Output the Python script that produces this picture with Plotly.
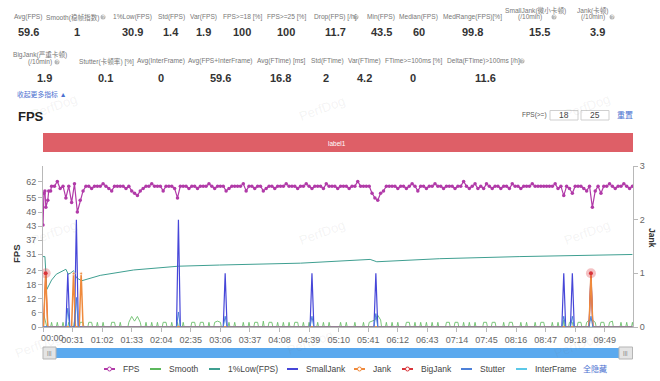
import plotly.graph_objects as go

FONT = "Liberation Sans, Noto Sans CJK SC, sans-serif"

# ---------- data ----------
fps_head_t = [0, 1, 2, 3, 5, 6, 8]
fps_head = [43.5, 57, 58, 51, 54, 58, 58]
fps_body = [
    60,60,62,59,60,55,60,53,61,49,
    54,58,60,60,59,60,60,60,61,60,
    59,58,60,60,60,60,59,60,58,57,
    56,58,59,60,60,61,60,60,60,58,
    60,60,60,59,55,60,60,60,59,60,
    60,59,60,60,60,61,60,59,60,60,
    60,58,59,60,60,60,60,61,58,60,
    60,59,60,60,58,59,60,60,59,60,
    60,60,61,60,60,60,59,60,60,61,
    60,59,60,60,60,59,61,60,60,60,
    59,60,60,60,59,60,60,62,60,60,
    60,60,57,55,54,57,58,60,60,60,
    60,59,60,60,59,60,61,60,58,60,
    60,59,60,60,61,60,60,59,60,60,
    60,59,60,60,62,60,59,60,61,59,
    60,59,61,60,59,60,60,59,60,60,
    59,61,60,60,59,60,60,60,61,60,
    60,60,60,60,60,60,61,59,60,56,
    60,59,57,60,60,60,59,58,60,51,
    58,60,57,60,60,61,60,59,60,60,
    61,60,59,60,
]
smooth_head = [6, 5, 3, 1, 0, 0, 0]
smooth_body = [
    2,0,2,0,2,0,2,0,2.5,0,
    2,2,0,2,2,0,2,0,2,0,
    0,2,2,0,2,0,0,2,4.5,2.5,
    4.5,2,0,2,0,2,0,2,0,2,
    2,0,2,0,2,0,2,0,0,2,
    2,0,2,2,0,2,0,2,2.5,2,
    0,0,2,0,2,0,0,2,0,2,
    0,2,2,0,2.5,0,2,2,0,2,
    0,2,0,2,0,2,2,0,2,0,
    2,0,0,2,0,2,0,2,0,0,
    0,2,0,2,0,0,2,0,0,2,
    0,2,2.5,3,5,3,0,2,0,2,
    0,2,0,0,2,2,0,2,0,2,
    0,2,0,2,0,2,0,0,2,2,
    0,2,2,0,2,0,2,0,2,0,
    0,2,2,0,2,2,0,0,2,0,
    2,2,0,0,2,0,2,0,0,2,
    0,2,2,0,0,2,0,2,0,3,
    0,2,2,0,2,2,0,2,3,3,
    2,0,2,2,0,2,2.5,0,0,2,
    0,2,0,2,
]
low_t = [0, 2, 4, 9, 14, 24, 26.5, 29, 32, 35, 40.5, 60, 95, 142, 185, 270, 343, 350, 416, 500, 618]
low_v = [30, 30, 16, 20, 22.5, 24.6, 22.5, 23, 24, 21, 19.7, 22, 24.3, 25.9, 26.4, 27.2, 28.8, 27.8, 29.1, 30, 30.9]
smalljank_t = [0, 24, 26, 28, 33, 35, 37, 140, 142, 144, 189, 191, 193, 280, 282, 284, 347, 349, 351, 544, 546, 548, 553, 555, 557, 572.5, 574.5, 576.5, 618]
smalljank_v = [0, 0, 1, 0, 0, 2, 0, 0, 2, 0, 0, 1, 0, 0, 1, 0, 0, 1, 0, 0, 1, 0, 0, 1, 0, 0, 1, 0, 0]
jank_t = [0, 0.5, 2.8, 5, 30, 32, 34, 38, 40, 42, 572.5, 574.5, 576.5, 618]
jank_v = [0, 0, 1, 0, 0, 1, 0, 0, 1, 0, 0, 1, 0, 0]
bigjank_t = [0, 0.5, 2.8, 5, 572.5, 574.5, 576.5, 618]
bigjank_v = [0, 0, 1, 0, 0, 1, 0, 0]
stutter_t = [0, 24, 26, 28, 33, 35, 37, 140, 142, 144, 189, 191, 193, 280, 282, 284, 347, 349, 351, 544, 546, 548, 553, 555, 557, 572.5, 574.5, 576.5, 618]
stutter_v = [0, 0, 0.35, 0, 0, 0.55, 0, 0, 0.28, 0, 0, 0.2, 0, 0, 0.2, 0, 0, 0.25, 0, 0, 0.2, 0, 0, 0.2, 0, 0, 0.2, 0, 0]
interframe_t = [0, 618]
interframe_v = [0, 0]

left_ticks = [0, 6, 12, 18, 24, 31, 37, 43, 49, 55, 62]
right_ticks = [0, 1, 2, 3]
time_ticks = list(range(0, 590, 31))
time_labels = ["", "00:31", "01:02", "01:33", "02:04", "02:35", "03:06", "03:37", "04:08", "04:39",
               "05:10", "05:41", "06:12", "06:43", "07:14", "07:45", "08:16", "08:47", "09:18", "09:49"]

row1 = [("Avg(FPS)", "59.6", 28, 28), ("Smooth(稳帧指数)", "1", 73, 77), ("1%Low(FPS)", "30.9", 132, 132),
        ("Std(FPS)", "1.4", 171, 171), ("Var(FPS)", "1.9", 204, 204), ("FPS>=18 [%]", "100", 242, 242),
        ("FPS>=25 [%]", "100", 286, 286), ("Drop(FPS) [/h]", "11.7", 335, 335), ("Min(FPS)", "43.5", 381, 381),
        ("Median(FPS)", "60", 419, 419), ("MedRange(FPS)[%]", "99.8", 472, 472)]
row2 = [("Stutter(卡顿率) [%]", "0.1", 106, 105), ("Avg(InterFrame)", "0", 161, 161),
        ("Avg(FPS+InterFrame)", "59.6", 220, 220), ("Avg(FTime) [ms]", "16.8", 281, 280),
        ("Std(FTime)", "2", 327, 326), ("Var(FTime)", "4.2", 364, 364),
        ("FTime>=100ms [%]", "0", 413, 413), ("Delta(FTime)>100ms [/h]", "11.6", 483, 485)]
legend_items = [("FPS", 104, "#b13aa8", True), ("Smooth", 150, "#5cb85c", False), ("1%Low(FPS)", 209, "#3f9f91", False),
                ("SmallJank", 287, "#4646d8", False), ("Jank", 354, "#ef8a3c", True), ("BigJank", 402, "#d9343a", True),
                ("Stutter", 461, "#4d80d8", False), ("InterFrame", 516, "#5bc8e8", False)]
watermarks = [(54, 106), (322, 108), (587, 106), (54, 232), (322, 232), (587, 232), (38, 345), (310, 342), (577, 345)]

# ---------- geometry ----------
L, R, T, B, W, H = 43, 27, 166, 54, 660, 381
PW, PH = W - L - R, H - T - B
X = lambda p: (p - L) / PW
Y = lambda p: (H - B - p) / PH
LAB = 6.6

annotations, shapes = [], []


def note(px, py, text, size=LAB, color="#777", anchor="center", bold=False, angle=0):
    annotations.append(dict(xref="paper", yref="paper", x=X(px), y=Y(py), text=f"<b>{text}</b>" if bold else text,
                            showarrow=False, xanchor=anchor, yanchor="middle", textangle=angle,
                            font=dict(size=size, color=color, family=FONT)))


def rect(x0, y0, x1, y1, fill, line=None, kind="rect", lw=1):
    shapes.append(dict(type=kind, xref="paper", yref="paper", x0=X(x0), x1=X(x1), y0=Y(y0), y1=Y(y1),
                       fillcolor=fill, line=dict(color=line or fill, width=lw if line else 0)))


def helpicon(px, py):
    rect(px - 2.5, py - 2.5, px + 2.5, py + 2.5, "#b5b5b5", kind="circle")
    note(px, py, "?", size=5, color="#fff")


for lab, val, lx, vx in row1:
    note(lx, 17, lab)
    note(vx, 32, val, size=11, color="#333", bold=True)
for lab, val, lx, vx in row2:
    note(lx, 61, lab)
    note(vx, 78, val, size=11, color="#333", bold=True)
note(535, 10, "SmallJank(微小卡顿)")
note(530, 17, "(/10min)")
note(539, 32, "15.5", size=11, color="#333", bold=True)
note(593, 10, "Jank(卡顿)")
note(593, 17, "(/10min)")
note(597, 32, "3.9", size=11, color="#333", bold=True)
note(40, 54, "BigJank(严重卡顿)")
note(40, 62, "(/10min)")
note(44, 78, "1.9", size=11, color="#333", bold=True)
for hx, hy in [(103, 17), (356, 17), (554, 17), (612, 17), (57, 62), (522, 61)]:
    helpicon(hx, hy)
note(15, 94, "收起更多指标 ▲", size=6.8, color="#4a6fd0", anchor="left")
note(16, 116, "FPS", size=13, color="#222", anchor="left", bold=True)
note(534, 115, "FPS(>=)", size=6.5, color="#555")
rect(550, 110.5, 578, 120, "#fff", "#cfcfcf")
rect(581, 110.5, 609, 120, "#fff", "#cfcfcf")
note(564, 115, "18", size=8.5, color="#444")
note(595, 115, "25", size=8.5, color="#444")
note(625, 115, "重置", size=8, color="#4a6fd0")
rect(43, 133, 633, 152, "#de5f67")
note(337, 143, "label1", size=6.5, color="#fff")
note(16, 254, "FPS", size=9.5, color="#333", bold=True, angle=-90)
note(652, 238, "Jank", size=8.5, color="#333", bold=True, angle=90)
note(52, 338, "00:00", size=9, color="#666")

# zoom slider
rect(50, 348, 626, 358, "#5ba9ee")
rect(43, 347, 56, 359, "#e4e4e4", "#b5b5b5")
rect(619, 347, 632.5, 359, "#e4e4e4", "#b5b5b5")
note(49.5, 353, "|||", size=6, color="#777")
note(625.5, 353, "|||", size=6, color="#777")

# legend
for name, lx, col, dot in legend_items:
    shapes.append(dict(type="line", xref="paper", yref="paper", x0=X(lx), x1=X(lx + 11), y0=Y(369), y1=Y(369),
                       line=dict(color=col, width=2)))
    if dot:
        rect(lx + 3.5, 367, lx + 7.5, 371, "#fff", col, kind="circle")
    note(lx + 17, 369, name, size=8.5, color="#444", anchor="left")
note(581, 369, "全隐藏", size=8, color="#4a6fd0", anchor="left")

for wx, wy in watermarks:
    note(wx, wy, "PerfDog", size=13, color="rgba(120,120,120,0.09)", angle=-20)

# ---------- traces ----------
fps_t = fps_head_t + [9 + 3 * k for k in range(len(fps_body))]
fps_v = fps_head + fps_body
smooth_v = smooth_head + smooth_body

# narrow the Smooth spikes: drop back to the baseline right beside each isolated reading
smooth_x, smooth_y = [], []
for i, (t, v) in enumerate(zip(fps_t, smooth_v)):
    prev_v = smooth_v[i - 1] if i else 0
    next_v = smooth_v[i + 1] if i + 1 < len(smooth_v) else 0
    if v > 0 and prev_v == 0:
        smooth_x.append(t - 1)
        smooth_y.append(0)
    smooth_x.append(t)
    smooth_y.append(v)
    if v > 0 and next_v == 0:
        smooth_x.append(t + 1)
        smooth_y.append(0)

fig = go.Figure()
fig.add_trace(go.Scatter(x=smooth_x, y=smooth_y, name="Smooth", mode="lines", line=dict(color="#6cc06c", width=0.9)))
fig.add_trace(go.Scatter(x=low_t, y=low_v, name="1%Low(FPS)", mode="lines", line=dict(color="#3f9f91", width=1)))
fig.add_trace(go.Scatter(x=interframe_t, y=interframe_v, yaxis="y2", name="InterFrame", mode="lines",
                         line=dict(color="#5bc8e8", width=1)))
fig.add_trace(go.Scatter(x=smalljank_t, y=smalljank_v, yaxis="y2", name="SmallJank", mode="lines",
                         line=dict(color="#4646d8", width=1.2)))
fig.add_trace(go.Scatter(x=bigjank_t, y=bigjank_v, yaxis="y2", name="BigJank", mode="lines",
                         line=dict(color="#d9343a", width=1)))
fig.add_trace(go.Scatter(x=jank_t, y=jank_v, yaxis="y2", name="Jank", mode="lines+markers",
                         line=dict(color="#ef8a3c", width=1.5),
                         marker=dict(size=[3 if v > 0 else 0 for v in jank_v], color="#ef8a3c")))
fig.add_trace(go.Scatter(x=stutter_t, y=stutter_v, yaxis="y2", name="Stutter", mode="lines",
                         line=dict(color="#4d80d8", width=1)))
fig.add_trace(go.Scatter(x=[t for t, v in zip(bigjank_t, bigjank_v) if v > 0],
                         y=[v for v in bigjank_v if v > 0], yaxis="y2", name="BigJank peak", mode="markers",
                         marker=dict(size=10, color="rgba(217,52,58,0.3)")))
fig.add_trace(go.Scatter(x=[t for t, v in zip(bigjank_t, bigjank_v) if v > 0],
                         y=[v for v in bigjank_v if v > 0], yaxis="y2", name="BigJank top", mode="markers",
                         marker=dict(size=4, color="#d9343a")))
fig.add_trace(go.Scatter(x=fps_t, y=fps_v, name="FPS", mode="lines+markers", line=dict(color="#b13aa8", width=1.2),
                         marker=dict(size=3.5, color="#b13aa8")))

axis_common = dict(showgrid=False, zeroline=False, showline=True, linecolor="#b8b8b8", linewidth=1,
                   ticks="outside", ticklen=4, tickcolor="#b8b8b8", tickfont=dict(size=9, color="#666", family=FONT))
fig.update_layout(
    width=W, height=H, showlegend=False, paper_bgcolor="#fff", plot_bgcolor="#fff",
    margin=dict(l=L, r=R, t=T, b=B, autoexpand=False),
    font=dict(family=FONT),
    xaxis=dict(range=[0, 618.6], tickmode="array", tickvals=time_ticks, ticktext=time_labels, **axis_common),
    yaxis=dict(range=[0, 68.6], tickmode="array", tickvals=left_ticks, **axis_common),
    yaxis2=dict(range=[0, 3], overlaying="y", side="right", tickmode="array", tickvals=right_ticks, **axis_common),
    annotations=annotations, shapes=shapes,
)
fig.write_html("out.html", config={"displayModeBar": False},
               post_script="document.body.style.margin='0';document.documentElement.style.overflow='hidden';")
